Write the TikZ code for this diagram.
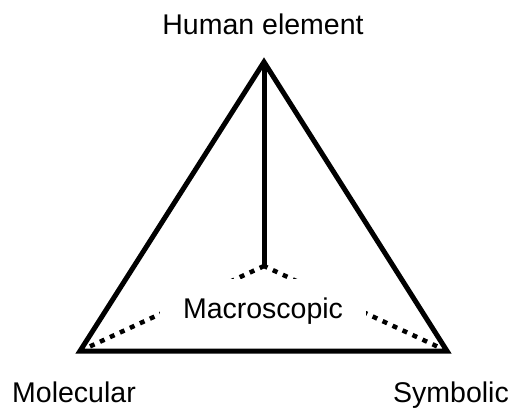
\documentclass[tikz,border=0pt]{standalone}
\usepackage{fontspec}
\setmainfont{Liberation Sans}
\usetikzlibrary{positioning}

\begin{document}
\begin{tikzpicture}[
    x=1pt, y=-1pt,
    edge/.style={line width=5pt, line join=miter},
    hidden/.style={line width=4.5pt, dash pattern=on 5pt off 6pt},
    lbl/.style={font=\fontsize{28.5}{32}\selectfont, inner sep=0pt, anchor=base},
    midbox/.style={lbl, anchor=center, fill=white, minimum width=206pt, minimum height=64pt},
]
\useasboundingbox (0,0) rectangle (511,407);

% --- corners of the tetrahedron ---
\coordinate (top)   at (264,62);
\coordinate (left)  at (80,351);
\coordinate (right) at (447,351);
\coordinate (mid)   at (264,266);

% --- hidden edges (dotted) ---
\draw[hidden] (left) -- (mid);
\draw[hidden] (right) -- (mid);

% --- visible edges ---
\draw[edge] (top) -- (left) -- (right) -- cycle;
\draw[edge] (top) -- (mid);

% --- labels ---
\node[midbox] (macro) at (263,311) {Macroscopic};
\node[lbl] (human) at (263,34)  {Human element};
\node[lbl] (mol)   at (74,402)  {Molecular};
\node[lbl] (sym)   at (451,402) {Symbolic};

\end{tikzpicture}
\end{document}
